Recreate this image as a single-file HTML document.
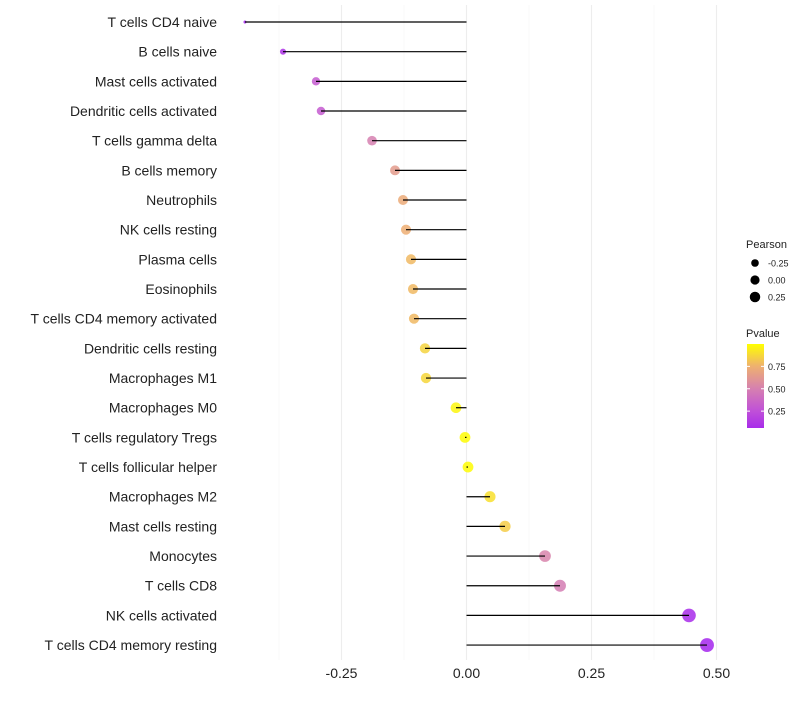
<!DOCTYPE html>
<html><head><meta charset="utf-8"><style>
body{margin:0;background:#fff;font-family:"Liberation Sans",sans-serif}
</style></head><body>
<svg id="chart" width="800" height="700" xmlns="http://www.w3.org/2000/svg" style="font-family:'Liberation Sans',sans-serif"></svg>
<script>
const categories=["T cells CD4 naive","B cells naive","Mast cells activated","Dendritic cells activated","T cells gamma delta","B cells memory","Neutrophils","NK cells resting","Plasma cells","Eosinophils","T cells CD4 memory activated","Dendritic cells resting","Macrophages M1","Macrophages M0","T cells regulatory  Tregs ","T cells follicular helper","Macrophages M2","Mast cells resting","Monocytes","T cells CD8","NK cells activated","T cells CD4 memory resting"];
const pearson=[-0.443,-0.367,-0.301,-0.291,-0.189,-0.143,-0.127,-0.121,-0.111,-0.107,-0.105,-0.083,-0.081,-0.021,-0.003,0.003,0.047,0.077,0.157,0.187,0.445,0.481];
const pvalue=[0.02,0.1,0.3,0.3,0.5,0.64,0.72,0.74,0.78,0.78,0.78,0.86,0.87,0.97,0.99,0.99,0.9,0.84,0.52,0.48,0.06,0.03];
const xTicks=[-0.25,0,0.25,0.5];
const xTickLabels=["-0.25","0.00","0.25","0.50"];
const NS="http://www.w3.org/2000/svg";
const svg=document.getElementById('chart');
const x=v=>466.5+v*500;
const y=i=>22+i*29.67;
const sizeDomain=[-0.45,-0.37,-0.3,-0.19,-0.13,0.2,0.5];
const sizeRange=[1.4,3,4.2,4.8,5,6,7];
function r(v){for(let k=1;k<sizeDomain.length;k++){if(v<=sizeDomain[k]||k==sizeDomain.length-1){const t=(v-sizeDomain[k-1])/(sizeDomain[k]-sizeDomain[k-1]);return Math.max(1,sizeRange[k-1]+(sizeRange[k]-sizeRange[k-1])*t);}}}
const stops=[[0,[160,32,240]],[0.25,[192,80,216]],[0.5,[214,128,176]],[0.75,[238,176,112]],[1,[255,255,0]]];
function col(p){for(let k=1;k<stops.length;k++){if(p<=stops[k][0]||k==stops.length-1){const a=stops[k-1],b=stops[k];let t=(p-a[0])/(b[0]-a[0]);t=Math.max(0,Math.min(1,t));return 'rgb('+a[1].map((c,j)=>Math.round(c+(b[1][j]-c)*t)).join(',')+')';}}}
function el(t,a,txt){const e=document.createElementNS(NS,t);for(const k in a)e.setAttribute(k,a[k]);if(txt!==undefined)e.textContent=txt;svg.appendChild(e);return e;}
for(let k=-3;k<=4;k++){const g=k*0.125;const e=el('line',{x1:x(g),x2:x(g),y1:5,y2:660,stroke:k%2==0?'#ededed':'#f5f5f5','stroke-width':k%2==0?1.1:0.6});

}
xTicks.forEach((t,i)=>{const e=el('text',{x:x(t),y:678,'text-anchor':'middle','font-size':14,fill:'#222'},xTickLabels[i]);

});
categories.forEach((c,i)=>{
const l=el('text',{x:217,y:y(i)+5,'text-anchor':'end','font-size':14,fill:'#222'},c);


const d=el('circle',{cx:x(pearson[i]),cy:y(i),r:r(pearson[i]),fill:col(pvalue[i]),'fill-opacity':0.85});


const s=el('line',{x1:x(0),x2:x(pearson[i]),y1:y(i),y2:y(i),stroke:'#000','stroke-width':1.2});


});
let t=el('text',{x:746,y:248,'font-size':11,fill:'#222'},'Pearson');

[-0.25,0,0.25].forEach((v,i)=>{const yy=263+i*17;
const c=el('circle',{cx:755,cy:yy,r:r(v)*0.85,fill:'#000'});


const tt=el('text',{x:768,y:yy+3.5,'font-size':9,fill:'#222'},['-0.25','0.00','0.25'][i]);

});
t=el('text',{x:746,y:337,'font-size':11,fill:'#222'},'Pvalue');

const defs=el('defs',{});
const lg=document.createElementNS(NS,'linearGradient');lg.setAttribute('id','gr');lg.setAttribute('x1',0);lg.setAttribute('x2',0);lg.setAttribute('y1',1);lg.setAttribute('y2',0);
[0.06,0.25,0.5,0.75,1].forEach(p=>{const s=document.createElementNS(NS,'stop');s.setAttribute('offset',(p-0.06)/0.94);s.setAttribute('stop-color',col(p));lg.appendChild(s);});
defs.appendChild(lg);
const bar=el('rect',{x:747,y:344,width:17,height:84,fill:'url(#gr)'});

[[0.75,'0.75'],[0.5,'0.50'],[0.25,'0.25']].forEach(([v,s])=>{const yy=344+(1-v)*89.5;
el('line',{x1:747,x2:750,y1:yy,y2:yy,stroke:'#fff'});el('line',{x1:761,x2:764,y1:yy,y2:yy,stroke:'#fff'});
const tt=el('text',{x:768,y:yy+3.5,'font-size':9,fill:'#222'},s);

});
</script>
</body></html>
